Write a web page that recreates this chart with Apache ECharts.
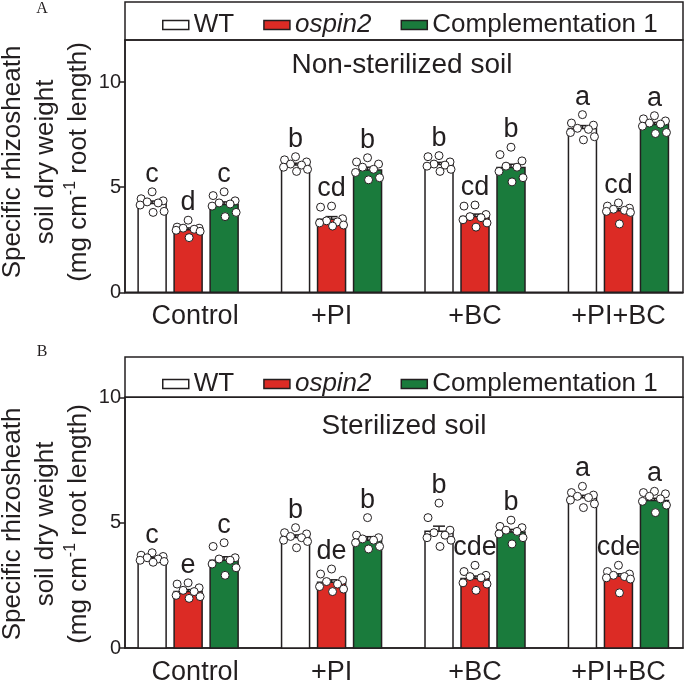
<!DOCTYPE html>
<html><head><meta charset="utf-8">
<script src="https://cdn.jsdelivr.net/npm/echarts@6/dist/echarts.min.js"></script>
<style>html,body{margin:0;padding:0;background:#fff}#c{width:685px;height:686px}</style>
</head><body><div id="c"></div>
<script>
const categories = ['Control', '+PI', '+BC', '+PI+BC'];
const genotypes = ['WT', 'ospin2', 'Complementation 1'];
const yTickValues = [0, 5, 10];
const panelTitles = ['Non-sterilized soil', 'Sterilized soil'];
const panelTags = ['A', 'B'];

// Panel A: non-sterilized soil
const meanA_WT = [4.22, 6.05, 6.08, 7.79];
const meanA_ospin2 = [2.97, 3.48, 3.60, 3.88];
const meanA_comp = [4.18, 5.82, 5.93, 7.98];
const seA_WT = [0.12, 0.09, 0.10, 0.14];
const seA_ospin2 = [0.09, 0.12, 0.12, 0.10];
const seA_comp = [0.12, 0.13, 0.16, 0.10];
const ptsA_WT = [
  [4.78, 4.45, 4.35, 4.30, 4.25, 4.15, 3.85, 3.80],
  [6.45, 6.30, 6.20, 6.10, 6.05, 5.95, 5.85, 5.75],
  [6.50, 6.45, 6.20, 6.10, 6.05, 6.00, 5.85, 5.75],
  [8.45, 8.05, 7.95, 7.80, 7.75, 7.60, 7.40, 7.25]
];
const ptsA_ospin2 = [
  [3.43, 3.10, 3.05, 3.05, 3.00, 2.95, 2.90, 2.60],
  [4.10, 4.05, 3.50, 3.40, 3.35, 3.30, 3.20, 3.15],
  [4.15, 4.10, 3.70, 3.60, 3.55, 3.45, 3.30, 3.10],
  [4.25, 4.10, 4.00, 3.95, 3.90, 3.85, 3.80, 3.25]
];
const ptsA_comp = [
  [4.78, 4.60, 4.35, 4.25, 4.20, 4.10, 3.80, 3.60],
  [6.40, 6.20, 6.10, 5.95, 5.85, 5.70, 5.45, 5.35],
  [6.90, 6.55, 6.25, 6.00, 5.95, 5.75, 5.45, 5.25],
  [8.40, 8.25, 8.15, 8.05, 8.00, 7.90, 7.60, 7.55]
];
const lettersA_WT = ['c', 'b', 'b', 'a'];
const lettersA_ospin2 = ['d', 'cd', 'cd', 'cd'];
const lettersA_comp = ['c', 'b', 'b', 'a'];

// Panel B: sterilized soil
const meanB_WT = [3.57, 4.41, 4.66, 5.99];
const meanB_ospin2 = [2.25, 2.62, 2.77, 2.86];
const meanB_comp = [3.50, 4.30, 4.63, 5.88];
const seB_WT = [0.05, 0.10, 0.20, 0.10];
const seB_ospin2 = [0.08, 0.10, 0.10, 0.10];
const seB_comp = [0.14, 0.14, 0.10, 0.09];
const ptsB_WT = [
  [3.80, 3.70, 3.65, 3.60, 3.55, 3.50, 3.45, 3.42],
  [4.80, 4.60, 4.55, 4.45, 4.40, 4.30, 4.25, 4.00],
  [5.78, 5.20, 4.70, 4.60, 4.50, 4.40, 4.30, 4.05],
  [6.45, 6.20, 6.10, 6.05, 6.00, 5.90, 5.75, 5.60]
];
const ptsB_ospin2 = [
  [2.60, 2.55, 2.40, 2.30, 2.25, 2.10, 2.05, 1.98],
  [3.15, 2.95, 2.70, 2.65, 2.55, 2.45, 2.35, 2.25],
  [3.30, 3.05, 2.90, 2.85, 2.80, 2.60, 2.55, 2.30],
  [3.30, 3.05, 2.95, 2.90, 2.85, 2.80, 2.75, 2.20]
];
const ptsB_comp = [
  [4.20, 4.05, 3.60, 3.55, 3.50, 3.35, 3.20, 2.90],
  [5.20, 4.50, 4.40, 4.35, 4.30, 4.20, 4.05, 3.95],
  [5.10, 4.85, 4.80, 4.70, 4.65, 4.55, 4.40, 4.15],
  [6.25, 6.20, 6.15, 6.05, 5.95, 5.85, 5.70, 5.40]
];
const lettersB_WT = ['c', 'b', 'b', 'a'];
const lettersB_ospin2 = ['e', 'de', 'cde', 'cde'];
const lettersB_comp = ['c', 'b', 'b', 'a'];

// ---- styling / layout ----
const INK = '#231f20';
const COLORS = ['#ffffff', '#dc2b25', '#1a7b3c'];
const FONT = '"Liberation Sans", Arial, Helvetica, sans-serif';
const BAR_OFFSET = [-36, 0, 36];
const BAR_W = 28;
const JIT = [0, -11, 11, -5, 6, -12, 12, 1];

const panels = [
  {means: [meanA_WT, meanA_ospin2, meanA_comp], ses: [seA_WT, seA_ospin2, seA_comp],
   pts: [ptsA_WT, ptsA_ospin2, ptsA_comp], letters: [lettersA_WT, lettersA_ospin2, lettersA_comp]},
  {means: [meanB_WT, meanB_ospin2, meanB_comp], ses: [seB_WT, seB_ospin2, seB_comp],
   pts: [ptsB_WT, ptsB_ospin2, ptsB_comp], letters: [lettersB_WT, lettersB_ospin2, lettersB_comp]}
];

function makeSeries(p, g) {
  const P = panels[p];
  return {
    type: 'custom', name: genotypes[g], xAxisIndex: p, yAxisIndex: p, clip: false,
    itemStyle: {color: COLORS[g], borderColor: INK, borderWidth: 1.5},
    data: P.means[g].map((m, i) => [i, m, P.ses[g][i]]),
    renderItem: function (params, api) {
      const i = api.value(0), m = api.value(1), se = api.value(2);
      const base = api.coord([i, 0]);
      const top = api.coord([i, m]);
      const cx = base[0] + BAR_OFFSET[g];
      const seTop = api.coord([i, m + se])[1];
      const children = [];
      children.push({type: 'rect', shape: {x: cx - BAR_W / 2, y: top[1], width: BAR_W, height: base[1] - top[1]},
        style: {fill: COLORS[g], stroke: INK, lineWidth: 1.5}});
      children.push({type: 'line', shape: {x1: cx, y1: top[1], x2: cx, y2: seTop}, style: {stroke: INK, lineWidth: 1.5}});
      children.push({type: 'line', shape: {x1: cx - 6, y1: seTop, x2: cx + 6, y2: seTop}, style: {stroke: INK, lineWidth: 1.5}});
      let highest = seTop;
      P.pts[g][i].forEach((v, k) => {
        const py = api.coord([i, v])[1];
        if (py < highest) highest = py;
        children.push({type: 'circle', shape: {cx: cx + JIT[k % JIT.length], cy: py, r: 4},
          style: {fill: '#ffffff', stroke: INK, lineWidth: 1}, z2: 5});
      });
      children.push({type: 'text', z2: 6, style: {text: P.letters[g][i], x: cx, y: highest - 4,
        align: 'center', verticalAlign: 'bottom', textAlign: 'center', textVerticalAlign: 'bottom',
        font: '27px ' + FONT, fill: INK}});
      return {type: 'group', children: children};
    }
  };
}

const grids = [
  {left: 125, top: 40, width: 558, height: 252.3},
  {left: 125, top: 397.3, width: 558, height: 253.4}
];
const yMax = [12, 10];

const option = {
  animation: false,
  backgroundColor: '#ffffff',
  grid: grids.map(gd => Object.assign({show: true, borderColor: INK, borderWidth: 1.5, backgroundColor: 'transparent'}, gd)),
  xAxis: [0, 1].map(p => ({
    type: 'value', gridIndex: p, min: -0.44, max: 3.45,
    axisLine: {show: true, onZero: false, lineStyle: {color: INK, width: 1.5}},
    axisTick: {show: false}, splitLine: {show: false},
    axisLabel: {customValues: [0, 1, 2, 3],
      formatter: v => { const n = categories[Math.round(v)] || ''; return n === 'Control' ? '{c|' + n + '}' : n; },
      fontFamily: FONT, fontSize: 27, color: INK, margin: 11,
      rich: {c: {fontFamily: FONT, fontSize: 27, color: INK, padding: [0, 0, 0, 14]}}}
  })),
  yAxis: [0, 1].map(p => ({
    type: 'value', gridIndex: p, min: 0, max: yMax[p],
    axisLine: {show: true, onZero: false, lineStyle: {color: INK, width: 1.5}},
    axisTick: {show: true, inside: false, length: 5, customValues: yTickValues, lineStyle: {color: INK, width: 1.5}},
    splitLine: {show: false},
    axisLabel: {customValues: yTickValues, fontFamily: FONT, fontSize: 20, color: INK, margin: 4}
  })),
  legend: [7, 366].map(t => ({
    top: t, left: 157, icon: 'rect', itemWidth: 26, itemHeight: 9, itemGap: 29,
    selectedMode: false,
    textStyle: {fontFamily: FONT, fontSize: 26, color: INK, rich: {i: {fontFamily: FONT, fontSize: 26, fontStyle: 'italic', color: INK}}},
    formatter: n => n === 'ospin2' ? '{i|ospin2}' : n,
    data: genotypes.map((n, g) => ({name: n, itemStyle: {color: COLORS[g], borderColor: INK, borderWidth: 1.5}}))
  })),
  graphic: [
    {type: 'rect', shape: {x: 125, y: 2, width: 558, height: 38}, style: {fill: 'none', stroke: INK, lineWidth: 1.5}},
    {type: 'rect', shape: {x: 125, y: 357, width: 558, height: 40.3}, style: {fill: 'none', stroke: INK, lineWidth: 1.5}},
    {type: 'text', x: 42, y: 9, style: {text: panelTags[0], font: '16px "Liberation Serif", "Times New Roman", serif', fill: INK, align: 'center', verticalAlign: 'middle'}},
    {type: 'text', x: 42, y: 352, style: {text: panelTags[1], font: '16px "Liberation Serif", "Times New Roman", serif', fill: INK, align: 'center', verticalAlign: 'middle'}},
    {type: 'text', x: 402, y: 65, style: {text: panelTitles[0], font: '28px ' + FONT, fill: INK, align: 'center', verticalAlign: 'middle'}},
    {type: 'text', x: 404, y: 426, style: {text: panelTitles[1], font: '28px ' + FONT, fill: INK, align: 'center', verticalAlign: 'middle'}},
  ].concat([162, 524].map(cy => ({
    type: 'text', x: 46, y: cy, rotation: Math.PI / 2,
    style: {text: 'Specific rhizosheath\nsoil dry weight\n(mg cm{sup|-1} root length)',
      font: '26px ' + FONT, fill: INK, align: 'center', verticalAlign: 'middle', lineHeight: 33,
      rich: {sup: {fontFamily: FONT, fontSize: 16, verticalAlign: 'top', lineHeight: 33, fill: INK}}}
  }))),
  series: [0, 1].flatMap(p => [0, 1, 2].map(g => makeSeries(p, g)))
};

const chart = echarts.init(document.getElementById('c'), null, {renderer: 'canvas'});
chart.setOption(option);
</script>
</body></html>
